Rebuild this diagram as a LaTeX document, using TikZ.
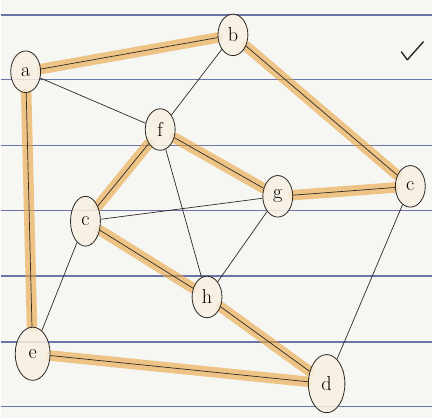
\documentclass[tikz,border=0pt]{standalone}
\usepackage{tikz}
\usetikzlibrary{shapes.geometric}
\definecolor{paper}{HTML}{F6F6F3}
\definecolor{ruled}{HTML}{6A76A8}
\definecolor{pencil}{HTML}{2E2A26}
\definecolor{marker}{HTML}{E9A43E}
\definecolor{vfill}{HTML}{F8F0E2}
\pgfdeclarelayer{paperlayer}
\pgfdeclarelayer{marks}
\pgfsetlayers{paperlayer,marks,main}

\begin{document}
\begin{tikzpicture}[
    x=0.03cm, y=-0.03cm,
    vertex/.style={
        draw=pencil, ellipse, fill=vfill, fill opacity=0.85, text opacity=1,
        line width=0.7pt, minimum width=0.9cm, minimum height=1.25cm,
        inner sep=1pt, font=\LARGE
    },
    tour/.style={
        draw=marker, line width=9pt, opacity=0.6, line cap=round
    },
    plain/.style={draw=pencil, line width=0.6pt}
]

% ===== paper =====
\begin{pgfonlayer}{paperlayer}
\fill[paper] (0,0) rectangle (433,419);
\foreach \y in {15,80,146,211,277,343,408} {
    \draw[ruled, line width=1.3pt] (0,\y) -- (433,\y);
}
\end{pgfonlayer}
\useasboundingbox (0,0) rectangle (433,419);

% ===== vertices =====
\node[vertex] (a) at (25, 72) {a};
\node[vertex] (b) at (233, 35) {b};
\node[vertex] (f) at (160, 130) {f};
\node[vertex] (g) at (278, 197) {g};
\node[vertex] (cr) at (411, 187) {c};
\node[vertex, minimum height=1.5cm] (cl) at (85, 222) {c};
\node[vertex] (h) at (207, 298) {h};
\node[vertex, minimum width=1.05cm, minimum height=1.6cm] (e) at (32, 355) {e};
\node[vertex, minimum width=1.1cm, minimum height=1.75cm] (d) at (327, 385) {d};

\begin{pgfonlayer}{marks}
% ===== highlighted cycle =====
\foreach \i/\j in {a/b, b/cr, cr/g, g/f, f/cl, cl/h, h/d, d/e, e/a} {
    \draw[tour] (\i) -- (\j);
}

% ===== edges =====
\foreach \i/\j in {a/b, b/cr, cr/g, g/f, f/cl, cl/h, h/d, d/e, e/a,
                   a/f, b/f, f/h, cl/g, cl/e, g/h, cr/d} {
    \draw[plain] (\i) -- (\j);
}
\end{pgfonlayer}

% tick mark
\draw[pencil, line width=1.2pt, line cap=round, line join=round]
    (402,52) -- (408,60) -- (424,42);

\end{tikzpicture}
\end{document}
